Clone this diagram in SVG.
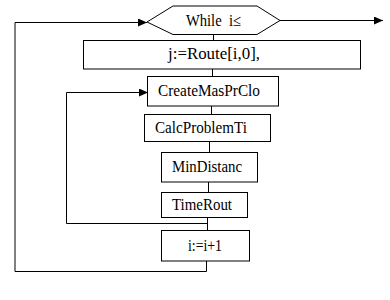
<svg xmlns="http://www.w3.org/2000/svg" width="390" height="300" viewBox="0 0 390 300">
<style>
.box{fill:#fff;stroke:#000;stroke-width:1}
.t{font-family:"Liberation Serif","Times New Roman",serif;font-size:16px;fill:#000}
.c{fill:none;stroke:#000;stroke-width:1}
</style>
<defs>
<marker id="ah" markerWidth="9" markerHeight="8" refX="9" refY="4" orient="auto" markerUnits="userSpaceOnUse">
<path d="M0,0 L9,4 L0,8 Z" fill="#000"/>
</marker>
</defs>
<rect width="390" height="300" fill="#fff"/>
<g id="connectors">
<path class="c" d="M280,20.5 H383" marker-end="url(#ah)"/>
<path class="c" d="M213.5,34 V40"/>
<path class="c" d="M212.5,69 V76"/>
<path class="c" d="M211.5,106 V114"/>
<path class="c" d="M209.5,141 V152"/>
<path class="c" d="M208.5,182 V192"/>
<path class="c" d="M207.5,217 V230"/>
<path class="c" d="M207.5,223.5 H66.5 V92.5 H148" marker-end="url(#ah)"/>
<path class="c" d="M206.5,261 V271.5 H15 V22.5 H147" marker-end="url(#ah)"/>
</g>
<g id="while">
<polygon class="box" points="147,22 173,6 257,6 280,20.5 257,34.5 173,34.5"/>
<text class="t" x="186" y="26" textLength="55" lengthAdjust="spacingAndGlyphs" xml:space="preserve">While  i≤</text>
</g>
<g id="route">
<rect class="box" x="83.5" y="40.5" width="277" height="28.5"/>
<text class="t" x="168" y="59" textLength="92" lengthAdjust="spacingAndGlyphs">j:=Route[i,0],</text>
</g>
<g id="create">
<rect class="box" x="147.5" y="76.5" width="131" height="29.5"/>
<text class="t" x="158" y="96" textLength="102" lengthAdjust="spacingAndGlyphs">CreateMasPrClo</text>
</g>
<g id="calc">
<rect class="box" x="144.5" y="114.5" width="126" height="27"/>
<text class="t" x="155" y="133" textLength="92" lengthAdjust="spacingAndGlyphs">CalcProblemTi</text>
</g>
<g id="mindist">
<rect class="box" x="161.5" y="152.5" width="96" height="29.5"/>
<text class="t" x="172" y="172" textLength="70" lengthAdjust="spacingAndGlyphs">MinDistanc</text>
</g>
<g id="timerout">
<rect class="box" x="161.5" y="192.5" width="86" height="25"/>
<text class="t" x="172" y="210" textLength="60" lengthAdjust="spacingAndGlyphs">TimeRout</text>
</g>
<g id="inc">
<rect class="box" x="161.5" y="230.5" width="88" height="30.5"/>
<text class="t" x="188" y="251" textLength="34" lengthAdjust="spacingAndGlyphs">i:=i+1</text>
</g>
</svg>
